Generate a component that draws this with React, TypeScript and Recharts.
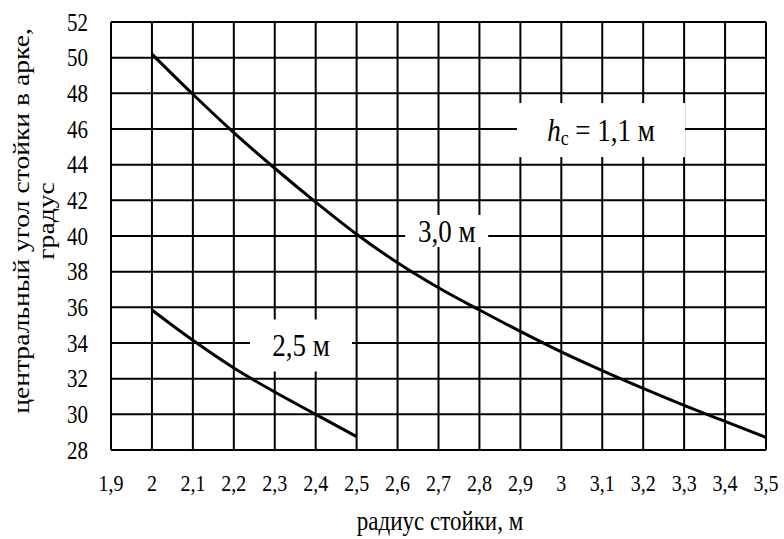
import React from 'react';
import { LineChart, Line, XAxis, YAxis, CartesianGrid, ReferenceDot, Label } from 'recharts';

// оси
const xTicks = [1.9, 2, 2.1, 2.2, 2.3, 2.4, 2.5, 2.6, 2.7, 2.8, 2.9, 3, 3.1, 3.2, 3.3, 3.4, 3.5];
const yTicks = [28, 30, 32, 34, 36, 38, 40, 42, 44, 46, 48, 50, 52];

// кривая 3,0 м
const radius30 = [2, 2.1, 2.2, 2.3, 2.4, 2.5, 2.6, 2.7, 2.8, 2.9, 3, 3.1, 3.2, 3.3, 3.4, 3.5];
const angle30 = [50.2, 47.95, 45.8, 43.8, 41.9, 40.1, 38.5, 37.1, 35.85, 34.65, 33.5, 32.45, 31.45, 30.5, 29.6, 28.7];

// кривая 2,5 м
const radius25 = [2, 2.1, 2.2, 2.3, 2.4, 2.5];
const angle25 = [35.85, 34.15, 32.6, 31.25, 30.0, 28.75];

// подписи кривых
const curveLabels = [
  { key: 'h', x: 3.097, y: 45.94, w: 168, h: 54 },
  { key: '30', x: 2.72, y: 40.28, w: 83, h: 32, text: '3,0 м' },
  { key: '25', x: 2.364, y: 33.86, w: 102, h: 52, text: '2,5 м' },
];

const series30 = radius30.map((x, i) => ({ x, y: angle30[i] }));
const series25 = radius25.map((x, i) => ({ x, y: angle25[i] }));

const FONT = "'Liberation Serif', 'Times New Roman', serif";
const SY = 1.2; // оригинал немного растянут по вертикали
const fmt = (v: number) => String(v).replace('.', ',');

const SText = ({ x, y, size, anchor = 'middle', children }: any) => (
  <text
    transform={`translate(${x},${y}) scale(1,${SY})`}
    textAnchor={anchor}
    fontFamily={FONT}
    fontSize={size}
    fill="#000"
  >
    {children}
  </text>
);

const XTick = (props: any) => {
  const { x, y, payload } = props;
  return <SText x={x} y={y + 41} size={20}>{fmt(payload.value)}</SText>;
};

const YTick = (props: any) => {
  const { x, y, payload } = props;
  return <SText x={x} y={y + 8.5} size={21} anchor="end">{payload.value}</SText>;
};

const boxLabel = (w: number, h: number, content: React.ReactNode) => (props: any) => {
  const { cx, cy } = props;
  return (
    <g>
      <rect x={cx - w / 2} y={cy - h / 2} width={w} height={h} fill="#fff" />
      <SText x={cx} y={cy + 11} size={27}>{content}</SText>
    </g>
  );
};

const hLabel = (
  <>
    <tspan fontStyle="italic">h</tspan>
    <tspan fontSize={18} dy={3}>c</tspan>
    <tspan dy={-3}> = 1,1 м</tspan>
  </>
);

export default function App() {
  return (
    <div style={{ position: 'absolute', left: 0, top: 0, background: '#fff' }}>
      <LineChart width={784} height={539} margin={{ top: 22, right: 18, bottom: 0, left: 0 }}>
        <CartesianGrid stroke="#000" strokeWidth={2} />
        <XAxis
          type="number"
          dataKey="x"
          domain={[1.9, 3.5]}
          ticks={xTicks}
          interval={0}
          height={89}
          tickSize={0}
          tickMargin={0}
          tickLine={false}
          axisLine={{ stroke: '#000', strokeWidth: 2 }}
          tick={<XTick />}
        >
          <Label content={() => <SText x={440} y={530} size={23}>радиус стойки, м</SText>} />
        </XAxis>
        <YAxis
          type="number"
          domain={[28, 52]}
          ticks={yTicks}
          interval={0}
          width={111}
          tickSize={0}
          tickMargin={23}
          tickLine={false}
          axisLine={{ stroke: '#000', strokeWidth: 2 }}
          tick={<YTick />}
        >
          <Label
            content={() => (
              <g transform={`translate(0,221) rotate(-90) scale(${SY},1)`}>
                <text x={0} y={29} textAnchor="middle" fontFamily={FONT} fontSize={23} fill="#000">
                  центральный угол стойки в арке,
                </text>
                <text x={0} y={54} textAnchor="middle" fontFamily={FONT} fontSize={23} fill="#000">
                  градус
                </text>
              </g>
            )}
          />
        </YAxis>
        <Line data={series30} dataKey="y" type="monotone" stroke="#000" strokeWidth={3} dot={false} isAnimationActive={false} />
        <Line data={series25} dataKey="y" type="monotone" stroke="#000" strokeWidth={3} dot={false} isAnimationActive={false} />
        {curveLabels.map((l) => (
          <ReferenceDot
            key={l.key}
            x={l.x}
            y={l.y}
            r={0}
            ifOverflow="visible"
            shape={boxLabel(l.w, l.h, l.text ?? hLabel)}
          />
        ))}
      </LineChart>
    </div>
  );
}
